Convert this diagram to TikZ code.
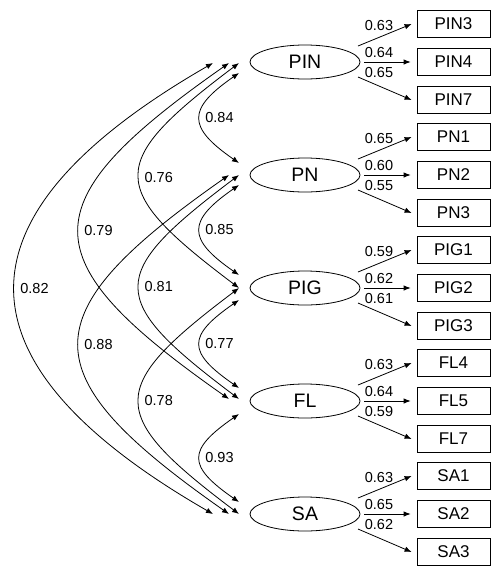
\documentclass[tikz,border=0pt]{standalone}
\usepackage{fontspec}
\setmainfont{Liberation Sans}
\usetikzlibrary{arrows.meta,shapes.geometric}
\begin{document}
\begin{tikzpicture}[x=1pt,y=-1pt,
  lat/.style={draw,ellipse,line width=0.8pt,minimum width=110pt,minimum height=34pt,inner sep=0pt,font=\fontsize{19.5}{20}\selectfont},
  obs/.style={draw,rectangle,line width=0.8pt,minimum width=73pt,minimum height=27pt,inner sep=0pt,font=\fontsize{17}{18}\selectfont},
  load/.style={line width=0.8pt,-{Latex[length=7pt,width=5.5pt]}},
  cov/.style={line width=0.8pt,{Latex[length=7pt,width=5.5pt]}-{Latex[length=7pt,width=5.5pt]}},
  num/.style={font=\fontsize{14.5}{15}\selectfont,inner sep=0pt},
  cnum/.style={font=\fontsize{14.5}{15}\selectfont,inner sep=0pt,anchor=west,xshift=5pt}]
\useasboundingbox (0,0) rectangle (491,566);
\foreach \n/\y/\a/\b/\c/\la/\lb/\lc in {
  PIN/62/PIN3/PIN4/PIN7/0.63/0.64/0.65,
  PN/175/PN1/PN2/PN3/0.65/0.60/0.55,
  PIG/288/PIG1/PIG2/PIG3/0.59/0.62/0.61,
  FL/401/FL4/FL5/FL7/0.63/0.64/0.59,
  SA/514/SA1/SA2/SA3/0.63/0.65/0.62}{
  \node[lat] (\n) at (305,\y) {\n};
  \node[obs] (\n-1) at (453.5,\y-38) {\a};
  \node[obs] (\n-2) at (453.5,\y) {\b};
  \node[obs] (\n-3) at (453.5,\y+38) {\c};
  \draw[load] ([shift={(53,-16)}]\n.center) -- ([xshift=-5pt]\n-1.west);
  \draw[load] ([shift={(59,0)}]\n.center) -- ([xshift=-6pt]\n-2.west);
  \draw[load] ([shift={(53,15)}]\n.center) -- ([xshift=-5pt]\n-3.west);
  \node[num] (\n-l1) at ([shift={(74,-36)}]\n.center) {\la};
  \node[num] (\n-l2) at ([shift={(74,-9)}]\n.center) {\lb};
  \node[num] (\n-l3) at ([shift={(74,11)}]\n.center) {\lc};
}
% connector end points beside the ellipses
\coordinate (PIN-o3) at ([shift={(-92,1)}]PIN.center);
\coordinate (PIN-o2) at ([shift={(-76,1)}]PIN.center);
\coordinate (PIN-o1) at ([shift={(-66,1)}]PIN.center);
\coordinate (PIN-lo) at ([shift={(-66,11)}]PIN.center);
\coordinate (PN-hi) at ([shift={(-66,-12)}]PN.center);
\coordinate (PN-o2) at ([shift={(-76,0)}]PN.center);
\coordinate (PN-o1) at ([shift={(-66,0)}]PN.center);
\coordinate (PN-lo) at ([shift={(-66,10)}]PN.center);
\coordinate (PIG-hi) at ([shift={(-66,-13)}]PIG.center);
\coordinate (PIG-o1) at ([shift={(-66,0)}]PIG.center);
\coordinate (PIG-lo) at ([shift={(-66,12)}]PIG.center);
\coordinate (FL-hi) at ([shift={(-66,-13)}]FL.center);
\coordinate (FL-o2) at ([shift={(-76,-2)}]FL.center);
\coordinate (FL-o1) at ([shift={(-66,-2)}]FL.center);
\coordinate (FL-lo) at ([shift={(-66,13)}]FL.center);
\coordinate (SA-hi) at ([shift={(-66,-12)}]SA.center);
\coordinate (SA-o3) at ([shift={(-92,0)}]SA.center);
\coordinate (SA-o2) at ([shift={(-76,0)}]SA.center);
\coordinate (SA-o1) at ([shift={(-66,0)}]SA.center);
% short covariances
\draw[cov] (PIN-lo) .. controls +(-52,36) and +(-52,-36) .. node[cnum,pos=0.5] {0.84} (PN-hi);
\draw[cov] (PN-lo) .. controls +(-52,36) and +(-52,-36) .. node[cnum,pos=0.5] {0.85} (PIG-hi);
\draw[cov] (PIG-lo) .. controls +(-52,36) and +(-52,-36) .. node[cnum,pos=0.5] {0.77} (FL-hi);
\draw[cov] (FL-lo) .. controls +(-52,36) and +(-52,-36) .. node[cnum,pos=0.5] {0.93} (SA-hi);
% medium covariances
\draw[cov] (PIN-o1) .. controls +(-133,100) and +(-133,-100) .. node[cnum,pos=0.5,yshift=-2pt] {0.76} (PIG-o1);
\draw[cov] (PN-o1) .. controls +(-133,100) and +(-133,-100) .. node[cnum,pos=0.5] {0.81} (FL-o1);
\draw[cov] (PIG-o1) .. controls +(-133,100) and +(-133,-100) .. node[cnum,pos=0.5] {0.78} (SA-o1);
% long covariances
\draw[cov] (PIN-o2) .. controls +(-200,140) and +(-200,-140) .. node[cnum,pos=0.5] {0.79} (FL-o2);
\draw[cov] (PN-o2) .. controls +(-200,140) and +(-200,-140) .. node[cnum,pos=0.5] {0.88} (SA-o2);
\draw[cov] (PIN-o3) .. controls +(-264,152) and +(-264,-152) .. node[cnum,pos=0.5] {0.82} (SA-o3);
\end{tikzpicture}
\end{document}
